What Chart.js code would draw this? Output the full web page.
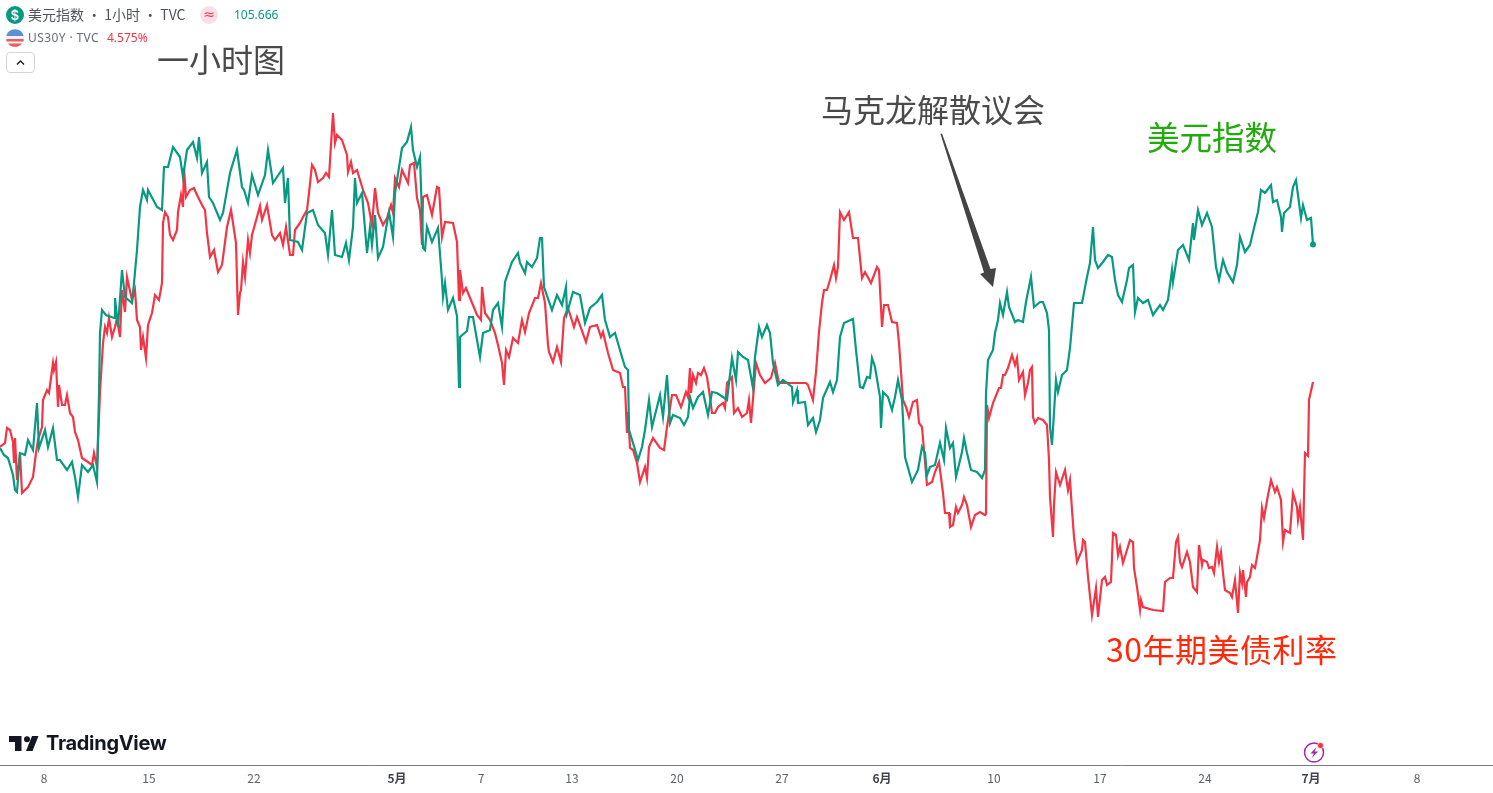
<!DOCTYPE html>
<html lang="zh">
<head>
<meta charset="utf-8">
<title>美元指数与30年期美债利率</title>
<script src="https://cdn.jsdelivr.net/npm/chart.js@4/dist/chart.umd.min.js"></script>
<style>
html,body{margin:0;padding:0;background:#fff;width:1493px;height:793px;overflow:hidden}
body{position:relative;font-family:"Noto Sans CJK SC","Noto Sans",sans-serif}
canvas{position:absolute;left:0;top:0}
.t{position:absolute;white-space:nowrap;line-height:1}
.note{font-size:32px;font-family:"Noto Sans CJK SC",sans-serif;font-weight:400}
svg{position:absolute;left:0;top:0}
</style>
</head>
<body>
<canvas id="c" width="1493" height="793"></canvas>
<svg width="1493" height="793" viewBox="0 0 1493 793">
  <circle cx="15" cy="15" r="9" fill="#089981"/>
  <circle cx="209" cy="15" r="9" fill="#fbdfe8"/>
  <circle cx="15" cy="38" r="9" fill="#f0f3fa"/>
  <path d="M6.3 36a9 9 0 0 1 17.4 0z" fill="#5b8fd6"/>
  <path d="M6.4 39h17.2v2.5H6.4z" fill="#f05a5a"/>
  <path d="M8 43.5h14a9 9 0 0 1-14 0z" fill="#f05a5a"/>
  <rect x="6.5" y="52.5" width="28" height="20" rx="3.5" fill="#fff" stroke="#d1d4dc"/>
  <path d="M17 64.5l3.5-3.5 3.5 3.5" fill="none" stroke="#131722" stroke-width="1.3"/>
  <polygon points="940.5,134 942,133.5 990.5,269 996,268 993,287 980,274 984,272.5" fill="#444"/>
  <g fill="#131722">
    <path d="M21.5 736H9v6h6v9h6.5z"/><circle cx="27" cy="739.2" r="3"/><path d="M32.5 751h-6.5l6-15h6.5z"/>
  </g>
  <circle cx="1314" cy="752.5" r="9.5" fill="none" stroke="#9c27b0" stroke-width="1.5"/>
  <path d="M1316.5 747l-6 6.5h3.4l-2 4.5 6.2-6.5h-3.5z" fill="#9c27b0"/>
  <circle cx="1320.5" cy="745.5" r="3" fill="#f23645" stroke="#fff" stroke-width="0.6"/>
</svg>
<div class="t" style="left:10px;top:8px;width:10px;text-align:center;color:#fff;font-size:14px;font-weight:700;font-family:'Liberation Sans',sans-serif">$</div>
<div class="t" style="left:28px;top:7px;font-size:14px;color:#50535e">美元指数 · 1小时 · TVC</div>
<div class="t" style="left:202px;top:7px;width:14px;text-align:center;font-size:14px;color:#f23645;font-family:'DejaVu Sans',sans-serif">≈</div>
<div class="t" style="left:234px;top:9px;font-size:12px;color:#089981;font-family:'Noto Sans',sans-serif">105.666</div>
<div class="t" style="left:28px;top:32px;font-size:12px;color:#6a6d78;font-family:'Noto Sans',sans-serif;letter-spacing:0.4px">US30Y · TVC</div>
<div class="t" style="left:107px;top:32px;font-size:12px;color:#f23645;font-family:'Noto Sans',sans-serif">4.575%</div>
<div class="t note" style="left:157px;top:42px;color:#4a4a4a">一小时图</div>
<div class="t note" style="left:821px;top:92px;color:#4a4a4a">马克龙解散议会</div>
<div class="t note" style="left:1147px;top:120px;color:#22ab0c;font-size:32.5px">美元指数</div>
<div class="t note" style="left:1106px;top:632px;color:#ff2a0a;letter-spacing:0.5px">30年期美债利率</div>
<div class="t" style="left:46px;top:733px;font-size:20px;font-weight:700;color:#131722;font-family:'Inter','Noto Sans',sans-serif;letter-spacing:-0.3px">TradingView</div>
<script>
const tickBars = [44,149,254,397,481,572,677,782,882,994,1100,1205,1311,1417];
const tickLabels = ['8','15','22','5月','7','13','20','27','6月','10','17','24','7月','8'];

const dxyBars = [
0,4,8,13,15,17,20,25,28,33,
37,39,45,48,53,57,60,67,72,75,
78,82,88,93,97,99,100,102,106,114,
115,118,122,125,132,134,137,140,143,147,
148,157,162,164,168,173,180,183,187,193,
197,199,202,207,209,213,220,223,230,237,
242,244,248,252,258,265,268,273,283,285,
288,290,298,302,307,313,318,325,328,332,
335,342,346,349,353,355,357,362,367,370,
372,375,378,383,387,389,393,395,402,407,
411,413,417,420,423,425,427,432,438,442,
443,445,448,453,457,459,460,467,469,473,
480,483,490,493,498,502,505,512,518,520,
525,527,532,537,540,542,544,552,557,562,
566,567,573,580,585,590,597,602,605,610,
615,622,625,628,629,633,638,642,645,649,
652,660,663,667,670,673,680,684,688,690,
693,698,703,708,712,717,723,727,732,736,
738,743,748,753,755,759,762,767,770,773,
778,783,792,793,797,798,805,808,813,816,
820,823,830,833,837,840,844,853,856,860,
863,867,870,872,875,880,881,883,888,892,
895,898,902,905,912,918,922,925,927,930,
935,940,944,946,950,953,956,962,964,967,
971,977,982,985,986,988,993,995,998,1000,
1003,1007,1009,1015,1018,1023,1026,1031,1034,1040,
1043,1047,1049,1050,1052,1056,1058,1062,1067,1070,
1074,1082,1087,1090,1093,1095,1098,1103,1108,1112,
1115,1118,1122,1127,1129,1133,1135,1138,1143,1148,
1153,1160,1163,1168,1172,1173,1178,1183,1189,1193,
1194,1198,1202,1207,1212,1216,1219,1223,1227,1233,
1237,1240,1245,1250,1254,1258,1261,1265,1271,1273,
1277,1281,1282,1284,1290,1293,1296,1301,1303,1307,
1311,1313];
const dxyValues = [
103.63,103.56,103.53,103.36,103.21,103.19,103.58,103.56,103.71,103.61,
104.08,103.63,103.81,103.64,103.83,103.51,103.51,103.41,103.49,103.34,
103.14,103.46,103.39,103.46,103.29,104.18,104.78,105.01,104.96,104.93,
105.13,104.84,105.41,105.14,105.08,105.28,105.61,106.04,106.21,106.11,
106.21,106.04,106.01,106.44,106.44,106.64,106.54,106.34,106.61,106.69,
106.53,106.74,106.38,106.49,106.14,106.08,105.91,105.98,106.38,106.61,
106.24,106.21,106.08,106.36,106.16,106.36,106.61,106.28,106.43,106.08,
106.33,105.71,105.69,105.61,105.98,106.01,105.86,105.78,105.56,106.01,
105.56,105.54,105.68,105.51,105.84,106.33,106.08,106.18,105.58,105.84,
105.66,105.96,105.53,105.64,105.88,105.99,105.74,106.18,106.63,106.69,
106.84,106.61,106.44,106.54,105.63,105.61,105.84,105.69,105.83,105.31,
105.14,105.28,105.01,105.13,104.95,104.24,104.74,104.80,104.94,104.94,
104.54,104.78,104.81,105.01,105.08,104.84,105.29,105.49,105.58,105.48,
105.38,105.49,105.44,105.53,105.73,105.73,105.24,105.01,105.16,105.06,
105.24,104.98,105.19,105.16,104.88,105.03,105.09,105.16,104.91,104.74,
104.78,104.54,104.44,104.41,103.81,103.68,103.51,103.64,103.81,104.11,
103.84,104.16,103.94,104.36,103.88,103.96,103.93,103.86,103.94,104.14,
104.03,104.14,104.19,103.96,104.19,104.18,104.14,104.11,104.53,104.31,
104.59,104.54,104.51,104.23,104.54,104.84,104.74,104.86,104.78,104.48,
104.26,104.31,104.24,104.09,104.21,104.08,104.09,103.86,103.93,103.79,
103.91,104.13,104.29,104.19,104.31,104.74,104.88,104.92,104.61,104.24,
104.23,104.34,104.33,104.53,104.44,104.14,103.83,104.19,104.14,104.01,
104.14,104.31,104.11,103.54,103.29,103.41,103.64,103.58,103.36,103.44,
103.46,103.68,103.51,103.83,103.63,103.68,103.34,103.59,103.73,103.58,
103.41,103.39,103.33,103.41,104.18,104.51,104.61,104.78,104.91,105.08,
104.96,105.19,105.04,104.89,104.91,104.89,105.09,105.34,105.04,105.09,
105.09,104.98,104.81,103.84,103.66,104.31,104.19,104.36,104.41,104.63,
105.08,105.08,105.34,105.48,105.84,105.51,105.43,105.49,105.56,105.54,
105.31,105.16,105.09,105.31,105.43,105.46,104.99,105.13,105.08,105.11,
104.96,105.06,105.01,105.11,105.41,105.29,105.61,105.66,105.51,105.88,
105.71,106.01,105.86,105.98,105.84,105.44,105.31,105.51,105.39,105.29,
105.46,105.74,105.59,105.66,105.83,105.99,106.21,106.18,106.26,106.09,
106.11,105.94,105.79,105.98,106.04,106.24,106.31,105.93,106.06,105.91,
105.93,105.666];

const yieldBars = [
0,5,7,10,13,14,15,17,20,22,
28,33,36,38,42,43,47,49,53,54,
56,58,59,62,65,67,70,73,75,78,
82,88,92,94,97,100,103,105,107,109,
112,115,117,120,122,125,127,132,135,137,
140,141,143,146,148,152,155,159,162,163,
165,168,170,173,177,178,181,183,184,186,
190,194,197,202,205,207,210,214,218,222,
227,231,233,236,238,240,241,243,245,248,
250,252,257,260,262,267,272,275,280,283,
286,290,293,295,300,303,307,309,312,315,
318,323,326,329,333,335,337,342,347,348,
351,353,357,363,368,372,375,378,383,387,
391,393,395,399,402,408,410,414,417,420,
422,423,427,432,437,439,442,445,453,457,
459,460,463,466,477,481,482,485,490,495,
498,502,504,506,509,513,518,522,525,529,
535,538,541,545,548,549,553,557,561,564,
568,574,577,586,590,597,601,603,608,613,
620,623,625,627,628,630,633,637,640,645,
647,649,653,660,664,667,672,676,681,686,
688,690,691,693,696,698,701,704,707,709,
712,715,718,723,725,727,732,734,738,742,
747,749,751,754,756,760,765,771,775,779,
787,806,808,813,816,819,822,824,827,830,
834,836,838,840,844,849,853,858,862,865,
871,877,879,882,884,888,892,897,899,903,
906,909,913,917,919,922,924,927,932,935,
939,943,945,949,950,953,956,958,962,964,
967,971,975,980,985,986,987,989,993,999,
1001,1003,1005,1008,1012,1015,1017,1019,1023,1025,
1028,1030,1032,1033,1035,1038,1043,1047,1049,1050,
1053,1054,1056,1060,1065,1068,1070,1072,1074,1077,
1082,1083,1085,1088,1092,1096,1098,1102,1105,1107,
1111,1113,1116,1118,1120,1123,1127,1130,1133,1134,
1137,1140,1141,1143,1153,1163,1165,1170,1173,1176,
1178,1180,1182,1187,1190,1193,1197,1199,1202,1203,
1207,1209,1212,1214,1217,1219,1221,1223,1225,1230,
1232,1235,1238,1240,1242,1243,1246,1247,1250,1252,
1255,1257,1260,1262,1264,1268,1271,1275,1277,1281,
1283,1285,1290,1293,1297,1298,1300,1303,1305,1308,
1309,1313];
const yieldValues = [
4.510,4.514,4.529,4.527,4.515,4.494,4.519,4.477,4.504,4.464,
4.470,4.480,4.504,4.517,4.530,4.557,4.567,4.564,4.594,4.587,
4.595,4.550,4.572,4.552,4.552,4.562,4.544,4.540,4.525,4.517,
4.499,4.495,4.492,4.504,4.490,4.565,4.614,4.630,4.624,4.639,
4.620,4.630,4.639,4.620,4.667,4.645,4.680,4.657,4.667,4.637,
4.630,4.607,4.620,4.599,4.632,4.644,4.662,4.657,4.674,4.734,
4.745,4.740,4.722,4.717,4.727,4.745,4.762,4.750,4.789,4.760,
4.767,4.769,4.762,4.752,4.747,4.724,4.700,4.707,4.685,4.692,
4.730,4.747,4.734,4.714,4.642,4.664,4.667,4.695,4.680,4.717,
4.704,4.722,4.740,4.751,4.737,4.752,4.722,4.717,4.724,4.712,
4.730,4.702,4.702,4.727,4.734,4.740,4.747,4.764,4.792,4.787,
4.775,4.779,4.784,4.780,4.844,4.814,4.822,4.817,4.802,4.785,
4.795,4.784,4.787,4.767,4.754,4.732,4.769,4.744,4.732,4.739,
4.752,4.744,4.779,4.770,4.787,4.774,4.792,4.794,4.759,4.747,
4.712,4.760,4.762,4.742,4.770,4.769,4.720,4.735,4.734,4.715,
4.657,4.687,4.664,4.669,4.642,4.637,4.670,4.644,4.637,4.624,
4.612,4.594,4.572,4.607,4.600,4.619,4.614,4.637,4.625,4.644,
4.659,4.659,4.674,4.654,4.612,4.605,4.595,4.610,4.595,4.639,
4.649,4.630,4.640,4.615,4.630,4.632,4.620,4.625,4.604,4.587,
4.584,4.570,4.570,4.524,4.545,4.509,4.507,4.494,4.475,4.490,
4.479,4.510,4.519,4.509,4.507,4.530,4.562,4.562,4.550,4.565,
4.560,4.589,4.564,4.582,4.574,4.584,4.582,4.589,4.580,4.567,
4.544,4.544,4.550,4.554,4.549,4.574,4.580,4.544,4.549,4.540,
4.544,4.557,4.534,4.570,4.594,4.582,4.574,4.579,4.594,4.574,
4.574,4.574,4.572,4.557,4.585,4.625,4.654,4.667,4.667,4.677,
4.692,4.679,4.690,4.745,4.737,4.745,4.719,4.719,4.679,4.685,
4.674,4.690,4.687,4.630,4.652,4.652,4.635,4.634,4.614,4.557,
4.550,4.540,4.555,4.557,4.534,4.530,4.507,4.472,4.475,4.485,
4.495,4.464,4.444,4.444,4.430,4.432,4.450,4.444,4.452,4.460,
4.452,4.430,4.442,4.445,4.442,4.443,4.552,4.539,4.554,4.569,
4.569,4.582,4.582,4.589,4.602,4.592,4.599,4.577,4.585,4.562,
4.574,4.587,4.590,4.540,4.534,4.539,4.537,4.532,4.497,4.460,
4.420,4.452,4.485,4.472,4.487,4.467,4.477,4.447,4.420,4.395,
4.407,4.417,4.415,4.380,4.342,4.369,4.340,4.377,4.380,4.372,
4.375,4.424,4.422,4.402,4.410,4.394,4.407,4.417,4.415,4.389,
4.370,4.347,4.357,4.350,4.347,4.346,4.375,4.379,4.379,4.415,
4.420,4.395,4.390,4.405,4.395,4.370,4.365,4.412,4.392,4.397,
4.395,4.389,4.390,4.384,4.410,4.395,4.405,4.384,4.367,4.364,
4.360,4.377,4.344,4.384,4.374,4.387,4.360,4.375,4.380,4.392,
4.389,4.400,4.417,4.449,4.439,4.462,4.477,4.465,4.470,4.457,
4.415,4.427,4.424,4.464,4.450,4.437,4.450,4.417,4.504,4.501,
4.557,4.575];

const pairs = (xs, ys) => xs.map((x, i) => ({ x, y: ys[i] }));
const lastOnly = (n, r) => ctx => ctx.dataIndex === n - 1 ? r : 0;
const isMonthTick = ctx => {
  if (!ctx.tick) return false;
  const label = tickLabels[tickBars.indexOf(ctx.tick.value)];
  return !!label && label.includes('月');
};

new Chart(document.getElementById('c'), {
  type: 'line',
  data: {
    datasets: [
      {
        label: '美元指数',
        data: pairs(dxyBars, dxyValues),
        yAxisID: 'yDxy',
        borderColor: '#089981',
        backgroundColor: '#089981',
        borderWidth: 2.2,
        tension: 0,
        pointRadius: lastOnly(dxyBars.length, 3),
        pointHoverRadius: 0,
        pointBorderWidth: 0
      },
      {
        label: 'US30Y',
        data: pairs(yieldBars, yieldValues),
        yAxisID: 'yYield',
        borderColor: '#f23645',
        backgroundColor: '#f23645',
        borderWidth: 2.2,
        tension: 0,
        pointRadius: 0
      }
    ]
  },
  options: {
    responsive: false,
    animation: false,
    events: [],
    layout: { padding: 0, autoPadding: false },
    plugins: { legend: { display: false }, tooltip: { enabled: false } },
    scales: {
      x: {
        type: 'linear',
        min: 0,
        max: 1493,
        grid: { display: false, drawTicks: false, tickLength: 0 },
        border: { display: true, color: '#787b86', width: 1 },
        afterBuildTicks: s => { s.ticks = tickBars.map(value => ({ value })); },
        afterFit: s => { s.height = 28; s.paddingLeft = 0; s.paddingRight = 0; },
        ticks: {
          autoSkip: false,
          maxRotation: 0,
          padding: 6,
          color: ctx => isMonthTick(ctx) ? '#3f424d' : '#5d606b',
          font: ctx => ({
            family: '"Noto Sans CJK SC","Noto Sans",sans-serif',
            size: 12,
            weight: isMonthTick(ctx) ? '700' : '400'
          }),
          callback: v => tickLabels[tickBars.indexOf(v)]
        }
      },
      yDxy: { display: false, position: 'left', min: 100.46, max: 108.11 },
      yYield: { display: false, position: 'right', min: 4.192, max: 4.957 }
    }
  }
});
</script>
</body>
</html>
